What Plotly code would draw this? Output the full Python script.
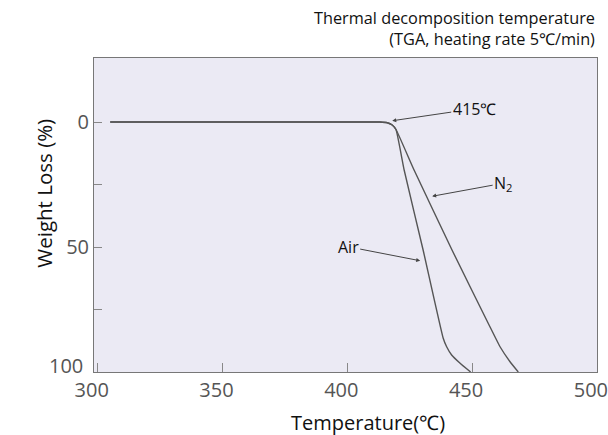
import plotly.graph_objects as go

# Data
air_temp = [305, 413, 416, 418, 419.5, 422.8, 430.4, 438.4, 439.8, 441.8, 445.2, 449.4]
air_loss = [0, 0, 0.3, 1.2, 3.0, 19.3, 51.3, 86.4, 89.9, 93.2, 96.5, 100]
n2_temp = [305, 413, 416, 418, 419.5, 426.8, 442.0, 456.8, 461.2, 465.2, 468.5]
n2_loss = [0, 0, 0.3, 1.2, 3.0, 19.3, 51.3, 81.2, 89.9, 95.9, 100]

x_ticks = [300, 350, 400, 450, 500]
y_ticks = [0, 25, 50, 75, 100]
y_tick_text = ["0", "", "50", "", ""]
y_bottom_label = "100"  # drawn raised slightly, as in the reference

# Annotation labels: text, arrow tip (data), offset (px)
labels = ["415℃", "N<sub>2</sub>", "Air"]
label_x = [418, 434, 429.2]
label_y = [-0.5, 29.7, 55.5]
label_ax = [82, 71, -72]
label_ay = [-12, -13, -14]

FONT = "Open Sans"
LINE = "#555555"

fig = go.Figure()
fig.add_trace(go.Scatter(x=air_temp, y=air_loss, mode="lines",
                         line=dict(color=LINE, width=1.4, shape="spline", smoothing=0.4),
                         showlegend=False, hoverinfo="skip"))
fig.add_trace(go.Scatter(x=n2_temp, y=n2_loss, mode="lines",
                         line=dict(color=LINE, width=1.4, shape="spline", smoothing=0.4),
                         showlegend=False, hoverinfo="skip"))

for t, x, y, ax, ay in zip(labels, label_x, label_y, label_ax, label_ay):
    fig.add_annotation(x=x, y=y, text=t, ax=ax, ay=ay, showarrow=True,
                       arrowhead=2, arrowsize=0.8, arrowwidth=1, arrowcolor="#444",
                       font=dict(family=FONT, size=16, color="#111"))

fig.add_annotation(text=y_bottom_label, xref="paper", yref="y", x=0, y=y_ticks[-1],
                   xanchor="right", yanchor="middle", xshift=-9, yshift=7, showarrow=False,
                   font=dict(family=FONT, size=20, color="#555"))

fig.add_annotation(text="Thermal decomposition temperature<br>(TGA, heating rate 5℃/min)",
                   xref="paper", yref="paper", x=1.0, y=1.02, xanchor="right", yanchor="bottom",
                   align="right", showarrow=False,
                   font=dict(family=FONT, size=16.3, color="#111"))
fig.add_annotation(text="Temperature(℃)", xref="paper", yref="paper",
                   x=0.545, y=-0.16, xanchor="center", yanchor="middle", showarrow=False,
                   font=dict(family=FONT, size=20, color="#111"))
fig.add_annotation(text="Weight Loss (%)", xref="paper", yref="paper",
                   x=-0.1, y=0.57, xanchor="center", yanchor="middle", textangle=-90,
                   showarrow=False, font=dict(family=FONT, size=20.5, color="#111"))

fig.update_layout(
    width=608, height=435,
    margin=dict(l=93.5, r=11, t=57.5, b=63),
    paper_bgcolor="white", plot_bgcolor="#ebeaf4",
    font=dict(family=FONT),
)
fig.update_xaxes(range=[298.5, 500.05], tickvals=x_ticks, ticks="inside", ticklen=9,
                 tickcolor="#888", showgrid=False, zeroline=False, showline=True,
                 linecolor="#777", linewidth=1, mirror=True, automargin=False,
                 ticklabeloverflow="allow", ticklabelshift=-6,
                 tickfont=dict(family=FONT, size=20, color="#555"))
fig.update_yaxes(range=[100, -25.6], tickvals=y_ticks, ticktext=y_tick_text,
                 ticks="inside", ticklen=8, tickcolor="#888", showgrid=False,
                 zeroline=False, showline=True, linecolor="#777", linewidth=1, mirror=True,
                 automargin=False,
                 tickfont=dict(family=FONT, size=20, color="#555"))

fig.write_html("out.html")
